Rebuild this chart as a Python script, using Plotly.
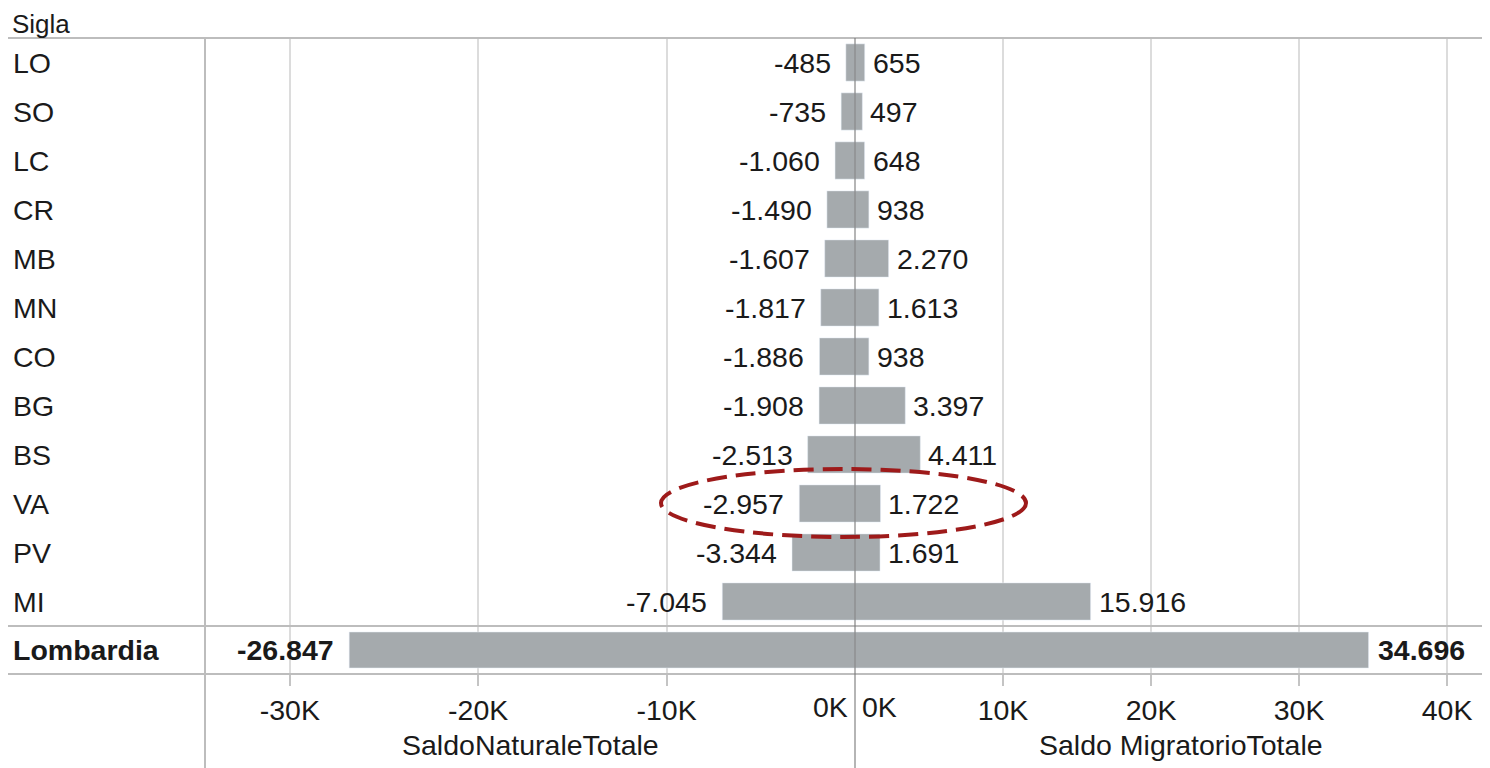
import plotly.graph_objects as go

# ---------------- data ----------------
categories = ["LO", "SO", "LC", "CR", "MB", "MN", "CO", "BG", "BS", "VA", "PV", "MI"]
saldo_naturale = [-485, -735, -1060, -1490, -1607, -1817, -1886, -1908, -2513, -2957, -3344, -7045]
saldo_migratorio = [655, 497, 648, 938, 2270, 1613, 938, 3397, 4411, 1722, 1691, 15916]
total_label = "Lombardia"
total_naturale = [-26847]
total_migratorio = [34696]
left_ticks = [-30000, -20000, -10000]
left_ticktext = ["-30K", "-20K", "-10K"]
right_ticks = [10000, 20000, 30000, 40000]
right_ticktext = ["10K", "20K", "30K", "40K"]

# page body has an 8px margin: the figure is drawn from (8, 8) on the screen
OFF = 8
SW, SH = 1490, 768
W, H = SW - OFF, SH - OFF
FONT = "Liberation Sans, Arial, sans-serif"
FS = 28.5
TXT = "#1a1a1a"
BAR = "#a5aaad"
GRID = "#dcdcdc"
LINE = "#bdbdbd"


def it(v):
    return f"{v:,}".replace(",", ".")


def px_x(p):
    return (p - OFF) / W


def px_y(p):
    return 1 - (p - OFF) / H


x_split = px_x(855)
x_left = px_x(205)
y_top = px_y(38)
y_mid = px_y(626)
y_bot = px_y(674)

fig = go.Figure()
fig.add_trace(go.Bar(y=categories, x=saldo_naturale, orientation="h", marker_color=BAR,
                     width=0.76, xaxis="x", yaxis="y", hoverinfo="x+y"))
fig.add_trace(go.Bar(y=categories, x=saldo_migratorio, orientation="h", marker_color=BAR,
                     width=0.76, xaxis="x2", yaxis="y", hoverinfo="x+y"))
fig.add_trace(go.Bar(y=[total_label], x=total_naturale, orientation="h", marker_color=BAR,
                     width=0.75, xaxis="x3", yaxis="y2", hoverinfo="x+y"))
fig.add_trace(go.Bar(y=[total_label], x=total_migratorio, orientation="h", marker_color=BAR,
                     width=0.75, xaxis="x4", yaxis="y2", hoverinfo="x+y"))

L_RANGE = [-34500, 0]
R_RANGE = [0, 42900]

common_x = dict(showgrid=True, gridcolor=GRID, gridwidth=2, zeroline=False,
                showline=False, fixedrange=True)
fig.update_layout(
    width=W, height=H,
    margin=dict(l=0, r=0, t=0, b=0),
    paper_bgcolor="white", plot_bgcolor="white",
    showlegend=False,
    font=dict(family=FONT, size=FS, color=TXT),
    xaxis=dict(domain=[x_left, x_split], range=L_RANGE, anchor="y",
               tickvals=left_ticks, showticklabels=False, ticks="", **common_x),
    xaxis2=dict(domain=[x_split, 1], range=R_RANGE, anchor="y",
                tickvals=right_ticks, showticklabels=False, ticks="", **common_x),
    xaxis3=dict(domain=[x_left, x_split], range=L_RANGE, anchor="y2",
                tickvals=left_ticks, ticktext=left_ticktext, ticks="outside",
                ticklen=11, tickwidth=2, tickcolor="#c4c4c4",
                tickfont=dict(family=FONT, size=FS, color=TXT), **common_x),
    xaxis4=dict(domain=[x_split, 1], range=R_RANGE, anchor="y2",
                tickvals=right_ticks, ticktext=right_ticktext, ticks="outside",
                ticklen=11, tickwidth=2, tickcolor="#c4c4c4",
                tickfont=dict(family=FONT, size=FS, color=TXT), **common_x),
    yaxis=dict(domain=[y_mid, y_top], type="category", categoryorder="array",
               categoryarray=categories, range=[len(categories) - 0.5, -0.5],
               showticklabels=False, showgrid=False, zeroline=False, fixedrange=True),
    yaxis2=dict(domain=[y_bot, y_mid], type="category", range=[0.5, -0.5],
                showticklabels=False, showgrid=False, zeroline=False, fixedrange=True),
)

ann = []
# value labels
for c, v in zip(categories, saldo_naturale):
    ann.append(dict(x=v, y=c, xref="x", yref="y", text=it(v), showarrow=False,
                    xanchor="right", yanchor="middle", xshift=-13))
for c, v in zip(categories, saldo_migratorio):
    ann.append(dict(x=v, y=c, xref="x2", yref="y", text=it(v), showarrow=False,
                    xanchor="left", yanchor="middle", xshift=6))
ann.append(dict(x=total_naturale[0], y=total_label, xref="x3", yref="y2",
                text=f"<b>{it(total_naturale[0])}</b>", showarrow=False,
                xanchor="right", yanchor="middle", xshift=-13))
ann.append(dict(x=total_migratorio[0], y=total_label, xref="x4", yref="y2",
                text=f"<b>{it(total_migratorio[0])}</b>", showarrow=False,
                xanchor="left", yanchor="middle", xshift=7))
# row labels
for c in categories:
    ann.append(dict(x=px_x(11), y=c, xref="paper", yref="y", text=c, showarrow=False,
                    xanchor="left", yanchor="middle"))
ann.append(dict(x=px_x(11), y=total_label, xref="paper", yref="y2",
                text=f"<b>{total_label}</b>", showarrow=False,
                xanchor="left", yanchor="middle"))
# header
ann.append(dict(x=px_x(11), y=px_y(24), xref="paper", yref="paper", text="Sigla",
                showarrow=False, xanchor="left", yanchor="middle", borderpad=0,
                font=dict(size=26)))
# zero tick labels
ann.append(dict(x=0, y=px_y(707), xref="x3", yref="paper", text="0K", showarrow=False,
                xanchor="right", yanchor="middle", xshift=-5))
ann.append(dict(x=0, y=px_y(707), xref="x4", yref="paper", text="0K", showarrow=False,
                xanchor="left", yanchor="middle", xshift=5))
# axis titles
ann.append(dict(x=(x_left + x_split) / 2, y=px_y(745), xref="paper", yref="paper",
                text="SaldoNaturaleTotale", showarrow=False, xanchor="center", yanchor="middle"))
ann.append(dict(x=(x_split + 1) / 2 + 8 / W, y=px_y(745), xref="paper", yref="paper",
                text="Saldo MigratorioTotale", showarrow=False, xanchor="center", yanchor="middle"))
fig.update_layout(annotations=ann)

shapes = []
for yy in (y_top, y_mid, y_bot):
    shapes.append(dict(type="line", xref="paper", yref="paper", x0=0, x1=1, y0=yy, y1=yy,
                       line=dict(color=LINE, width=2), layer="above"))
shapes.append(dict(type="line", xref="paper", yref="paper", x0=x_left, x1=x_left, y0=0, y1=y_top,
                   line=dict(color=LINE, width=2), layer="above"))
shapes.append(dict(type="line", xref="paper", yref="paper", x0=x_split, x1=x_split, y0=0, y1=y_top,
                   line=dict(color="rgba(120,120,120,0.55)", width=2), layer="above"))
# highlight ellipse around VA
shapes.append(dict(type="circle", xref="paper", yref="paper",
                   x0=px_x(661), x1=px_x(1026), y0=px_y(537), y1=px_y(469),
                   line=dict(color="#9e1a1a", width=4, dash="20px,9px"), layer="above"))
fig.update_layout(shapes=shapes)

fig.write_html("out.html")
